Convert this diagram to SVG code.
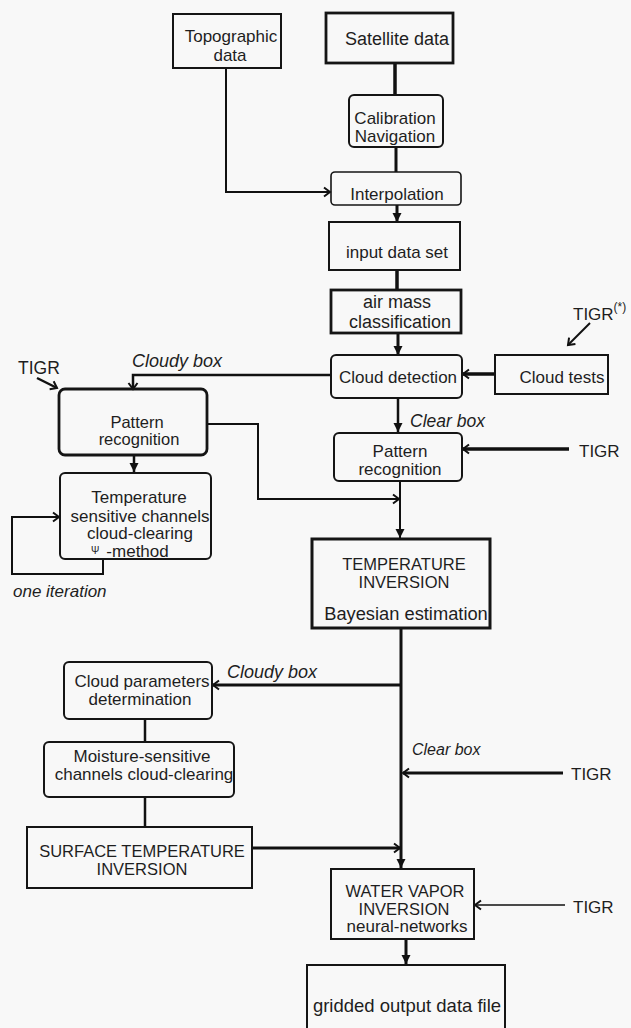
<svg xmlns="http://www.w3.org/2000/svg" width="631" height="1028" viewBox="0 0 631 1028">
<style>
.bg{fill:#f8f8f8}
.box{fill:none;stroke:#151515;stroke-width:2}
.thick{stroke-width:2.8}
.t{font-family:"Liberation Sans",Arial,sans-serif;font-size:17px;fill:#1e1e1e;text-anchor:middle}
.ts{text-anchor:start}
.it{font-style:italic}
.c{fill:none;stroke:#111;stroke-linecap:butt;stroke-linejoin:miter}
</style>
<defs>
<marker id="chev" markerWidth="12" markerHeight="12" refX="9" refY="6" orient="auto" markerUnits="userSpaceOnUse"><path d="M3,1.5 L9,6 L3,10.5" fill="none" stroke="#111" stroke-width="2"/></marker>
<marker id="tri" markerWidth="12" markerHeight="12" refX="10" refY="6" orient="auto" markerUnits="userSpaceOnUse"><path d="M1,1.5 L10,6 L1,10.5 z" fill="#111"/></marker>
</defs>
<rect class="bg" x="0" y="0" width="631" height="1028"/>

<g id="connectors">
<path class="c" stroke-width="3.5" d="M395,63 V95"/>
<path class="c" stroke-width="3" d="M396,147 V172"/>
<path class="c" stroke-width="2" d="M226,68 V192 H330" marker-end="url(#chev)"/>
<path class="c" stroke-width="3" d="M397,205 V222" marker-end="url(#tri)"/>
<path class="c" stroke-width="3.5" d="M397,270 V290"/>
<path class="c" stroke-width="3" d="M398,333 V355" marker-end="url(#tri)"/>
<path class="c" stroke-width="3.5" d="M495,374 H463" marker-end="url(#chev)"/>
<path class="c" stroke-width="2" d="M590,323 L568,345" marker-end="url(#chev)"/>
<path class="c" stroke-width="2.5" d="M331,375 H133 V389" marker-end="url(#chev)"/>
<path class="c" stroke-width="2.5" d="M37,378 L57,388" marker-end="url(#chev)"/>
<path class="c" stroke-width="2.5" d="M398,398 V432" marker-end="url(#tri)"/>
<path class="c" stroke-width="3.5" d="M569,449 H463" marker-end="url(#chev)"/>
<path class="c" stroke-width="2" d="M207,424 H258 V499 H399" marker-end="url(#chev)"/>
<path class="c" stroke-width="2" d="M400,481 V538" marker-end="url(#tri)"/>
<path class="c" stroke-width="2.5" d="M134,455 V472" marker-end="url(#tri)"/>
<path class="c" stroke-width="2" d="M103,560 V574 H12 V517 H59" marker-end="url(#chev)"/>
<path class="c" stroke-width="3" d="M401,628 V868" marker-end="url(#tri)"/>
<path class="c" stroke-width="3" d="M401,685 H213" marker-end="url(#chev)"/>
<path class="c" stroke-width="3" d="M563,773 H403" marker-end="url(#chev)"/>
<path class="c" stroke-width="2.5" d="M145,719 V742"/>
<path class="c" stroke-width="2.5" d="M145,797 V827"/>
<path class="c" stroke-width="3" d="M252,848 H400" marker-end="url(#chev)"/>
<path class="c" stroke-width="1.5" d="M565,905 H475" marker-end="url(#chev)"/>
<path class="c" stroke-width="3" d="M406,939 V964" marker-end="url(#tri)"/>
</g>

<g id="topographic">
<rect class="box" x="173" y="14" width="108" height="54"/>
<text class="t" x="231" y="42">Topographic</text>
<text class="t" x="230" y="61">data</text>
</g>
<g id="satellite">
<rect class="box thick" x="326" y="13" width="127" height="50"/>
<text class="t" x="397" y="45" style="font-size:18px">Satellite data</text>
</g>
<g id="calibration">
<rect class="box" x="349" y="95" width="94" height="52" rx="5"/>
<text class="t" x="395" y="124">Calibration</text>
<text class="t" x="395" y="142">Navigation</text>
</g>
<g id="interpolation">
<rect class="box" x="331" y="172" width="130" height="33" rx="4" style="stroke-width:1.6"/>
<text class="t" x="397" y="200">Interpolation</text>
</g>
<g id="input">
<rect class="box" x="329" y="222" width="131" height="48"/>
<text class="t" x="397" y="258">input data set</text>
</g>
<g id="airmass">
<rect class="box thick" x="331" y="290" width="130" height="43"/>
<text class="t" x="397" y="308" style="font-size:18px">air mass</text>
<text class="t" x="400" y="328" style="font-size:18px">classification</text>
</g>
<g id="clouddetection">
<rect class="box" x="331" y="355" width="131" height="43" rx="5"/>
<text class="t" x="398" y="383">Cloud detection</text>
</g>
<g id="cloudtests">
<rect class="box" x="495" y="355" width="113" height="39"/>
<text class="t" x="562" y="383">Cloud tests</text>
</g>
<g id="tigr1">
<text class="t ts" x="573" y="320">TIGR<tspan dy="-9" style="font-size:12px">(*)</tspan></text>
</g>
<g id="cloudybox1"><text class="t ts it" x="132" y="367" style="font-size:18px">Cloudy box</text></g>
<g id="tigr2"><text class="t ts" x="18" y="374" style="font-size:17.5px">TIGR</text></g>
<g id="clearbox1"><text class="t ts it" x="410" y="427" style="font-size:17.5px">Clear box</text></g>
<g id="patternleft">
<rect class="box thick" x="59" y="389" width="148" height="66" rx="6"/>
<text class="t" x="137" y="428" style="font-size:16.5px">Pattern</text>
<text class="t" x="139" y="445" style="font-size:16.5px">recognition</text>
</g>
<g id="patternright">
<rect class="box" x="334" y="433" width="128" height="48" rx="5"/>
<text class="t" x="400" y="457">Pattern</text>
<text class="t" x="400" y="475">recognition</text>
</g>
<g id="tigr3"><text class="t ts" x="579" y="457">TIGR</text></g>
<g id="tempsensitive">
<rect class="box" x="60" y="473" width="151" height="86" rx="5"/>
<text class="t" x="139" y="503">Temperature</text>
<text class="t" x="140" y="522">sensitive channels</text>
<text class="t" x="140" y="539">cloud-clearing</text>
<text class="t ts" x="91" y="557"><tspan style="font-size:10px" dy="-3">Ψ</tspan><tspan dy="3" dx="7">-method</tspan></text>
</g>
<g id="oneiteration"><text class="t ts it" x="13" y="597">one iteration</text></g>
<g id="tempinversion">
<rect class="box" x="312" y="539" width="178" height="89" style="stroke-width:3"/>
<text class="t" x="404" y="570" style="font-size:16.5px">TEMPERATURE</text>
<text class="t" x="404" y="588" style="font-size:16.5px">INVERSION</text>
<text class="t" x="406" y="620" style="font-size:18.3px">Bayesian estimation</text>
</g>
<g id="cloudparams">
<rect class="box" x="64" y="662" width="148" height="57" rx="5"/>
<text class="t" x="142" y="687">Cloud parameters</text>
<text class="t" x="140" y="705">determination</text>
</g>
<g id="cloudybox2"><text class="t ts it" x="227" y="678" style="font-size:18px">Cloudy box</text></g>
<g id="clearbox2"><text class="t ts it" x="412" y="755" style="font-size:16px">Clear box</text></g>
<g id="tigr4"><text class="t ts" x="571" y="780">TIGR</text></g>
<g id="moisture">
<rect class="box" x="44" y="742" width="190" height="55" rx="5"/>
<text class="t" x="142" y="762">Moisture-sensitive</text>
<text class="t" x="144" y="780">channels cloud-clearing</text>
</g>
<g id="surface">
<rect class="box" x="27" y="827" width="225" height="61"/>
<text class="t" x="142" y="857" style="font-size:16.5px">SURFACE TEMPERATURE</text>
<text class="t" x="142" y="875" style="font-size:16.5px">INVERSION</text>
</g>
<g id="watervapor">
<rect class="box" x="331" y="869" width="143" height="70"/>
<text class="t" x="405" y="897" style="font-size:16.5px">WATER VAPOR</text>
<text class="t" x="404" y="915" style="font-size:16.5px">INVERSION</text>
<text class="t" x="407" y="932">neural-networks</text>
</g>
<g id="tigr5"><text class="t ts" x="573" y="913">TIGR</text></g>
<g id="gridded">
<rect class="box" x="307" y="965" width="198" height="80"/>
<text class="t" x="407" y="1012" style="font-size:18.5px">gridded output data file</text>
</g>
</svg>
